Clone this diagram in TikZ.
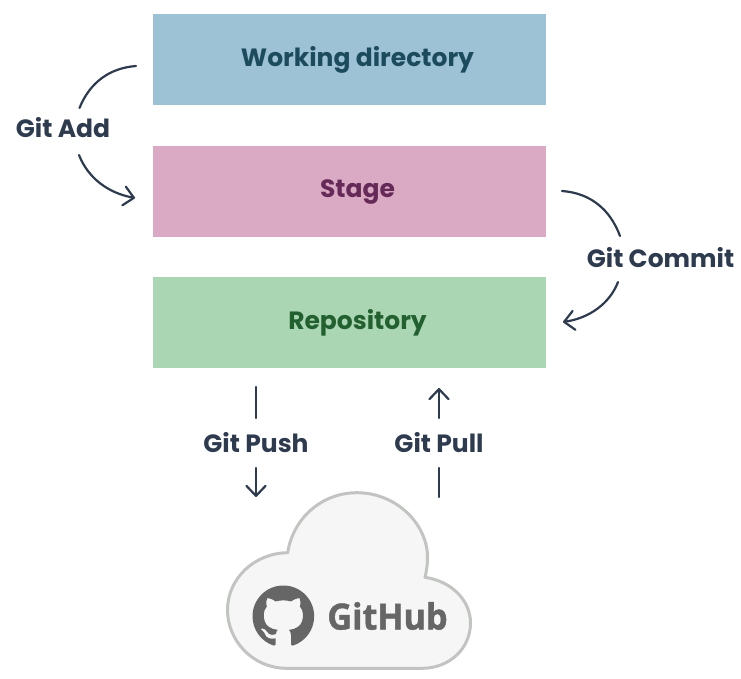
\documentclass[tikz,border=0pt]{standalone}
\usepackage{fontspec}
\setmainfont{Poppins}
\newfontfamily\ghfont[FakeStretch=0.95,FakeBold=1.2]{Open Sans}
\usetikzlibrary{arrows.meta,svg.path}
\definecolor{inkc}{HTML}{2E3B4E}
\definecolor{bluebox}{HTML}{9DC1D5}
\definecolor{pinkbox}{HTML}{DAAAC4}
\definecolor{greenbox}{HTML}{AAD6B3}
\definecolor{bluetext}{HTML}{1D4B5E}
\definecolor{pinktext}{HTML}{652A57}
\definecolor{greentext}{HTML}{23602F}
\definecolor{ghgrey}{HTML}{666666}
\definecolor{cloudline}{HTML}{C2C4C2}
\definecolor{cloudfill}{HTML}{F6F6F6}
\tikzset{
  x=1pt,y=-1pt,
  stagebox/.style={rectangle,minimum width=393pt,minimum height=91pt,inner sep=0pt,font=\fontsize{25}{29}\selectfont\bfseries},
  oplabel/.style={text=inkc,inner sep=0pt,font=\fontsize{25}{29}\selectfont\bfseries},
  flowline/.style={draw=inkc,line width=2.2pt,line cap=round},
  flowarrow/.style={flowline,-{Straight Barb[length=10pt,width=19pt,line width=2.2pt,round]}},
}
\begin{document}
\begin{tikzpicture}
\useasboundingbox (0,0) rectangle (741,678);
\node[stagebox,fill=bluebox,text=bluetext] (work) at (349.5,59.5) {\hspace*{16pt}Working directory};
\node[stagebox,fill=pinkbox,text=pinktext] (stage) at (349.5,191.5) {\hspace*{16pt}\vphantom{d}Stage};
\node[stagebox,fill=greenbox,text=greentext] (repo) at (349.5,322.5) {\hspace*{16pt}Repository};
\node[oplabel] (add) at (63,128) {Git Add};
\node[oplabel] (commit) at (660.5,258) {Git Commit};
\node[oplabel] (push) at (256,443) {Git Push};
\node[oplabel] (pull) at (439,443) {Git Pull};
\coordinate (addA) at (136,66);
\coordinate (addB) at (79.5,108);
\coordinate (addC) at (79,155);
\coordinate (addD) at (135,198);
\coordinate (comA) at (562,191);
\coordinate (comB) at (620,236);
\coordinate (comC) at (618,282);
\coordinate (comD) at (563,322);
\coordinate (pushA) at (256,387);
\coordinate (pushB) at (256,418);
\coordinate (pushC) at (256,468);
\coordinate (pushD) at (256,497);
\coordinate (pullA) at (439,497);
\coordinate (pullB) at (439,468);
\coordinate (pullC) at (439,418);
\coordinate (pullD) at (439,388);
\draw[flowline] (addA) .. controls (110,68) and (90,82) .. (addB);
\draw[flowarrow] (addC) .. controls (88,178) and (108,193) .. (addD);
\draw[flowline] (comA) .. controls (590,193) and (610,209) .. (comB);
\draw[flowarrow] (comC) .. controls (610,303) and (590,318) .. (comD);
\draw[flowline] (pushA) -- (pushB);
\draw[flowarrow] (pushC) -- (pushD);
\draw[flowline] (pullA) -- (pullB);
\draw[flowarrow] (pullC) -- (pullD);
% cloud
\draw[draw=cloudline,fill=cloudfill,line width=3pt,line join=round]
  (287.7,552.7)
  .. controls (293,518) and (322,492.7) .. (357,492.7)
  .. controls (397,492.7) and (428,525) .. (427.5,558)
  .. controls (427.5,565) and (426.5,571) .. (425,577.3)
  .. controls (451,581) and (470.5,600) .. (470.5,623)
  .. controls (470.5,648) and (450,668.3) .. (422,668.3)
  -- (287,668.3)
  .. controls (252,668.3) and (227.5,640) .. (227.5,610)
  .. controls (227.5,578) and (255,553) .. (287.7,552.7) -- cycle;
\begin{scope}[shift={(252.5,585.5)},xscale=3.85,yscale=-3.85]
\fill[ghgrey,even odd rule] svg "M8 0C3.58 0 0 3.58 0 8c0 3.54 2.29 6.53 5.47 7.59 .4 .07 .55 -.17 .55 -.38 0 -.19 -.01 -.82 -.01 -1.49 -2.01 .37 -2.53 -.49 -2.69 -.94 -.09 -.23 -.48 -.94 -.82 -1.13 -.28 -.15 -.68 -.52 -.01 -.53 .63 -.01 1.08 .58 1.23 .82 .72 1.21 1.87 .87 2.33 .66 .07 -.52 .28 -.87 .51 -1.07 -1.78 -.2 -3.64 -.89 -3.64 -3.95 0 -.87 .31 -1.59 .82 -2.15 -.08 -.2 -.36 -1.02 .08 -2.12 0 0 .67 -.21 2.2 .82 .64 -.18 1.32 -.27 2 -.27 .68 0 1.36 .09 2 .27 1.53 -1.04 2.2 -.82 2.2 -.82 .44 1.1 .16 1.92 .08 2.12 .51 .56 .82 1.27 .82 2.15 0 3.07 -1.87 3.75 -3.65 3.95 .29 .25 .54 .73 .54 1.48 0 1.07 -.01 1.93 -.01 2.2 0 .21 .15 .46 .55 .38 3.18 -1.06 5.47 -4.05 5.47 -7.59 0 -4.42 -3.58 -8 -8 -8z";
\end{scope}
\node[text=ghgrey,inner sep=0pt,font=\fontsize{36}{40}\selectfont\ghfont\bfseries] (gh) at (387.5,616) {GitHub};
\end{tikzpicture}
\end{document}
